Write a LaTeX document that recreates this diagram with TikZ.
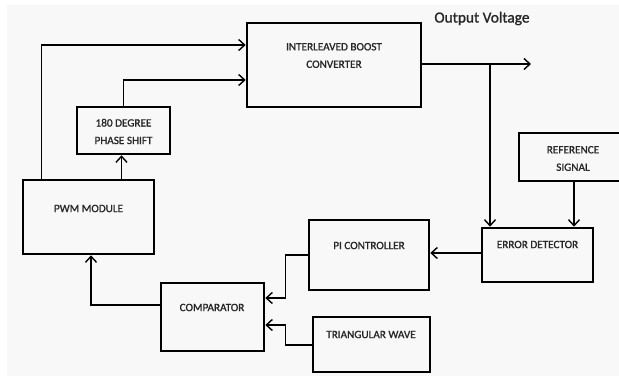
\documentclass[tikz,border=0pt]{standalone}
\usepackage{fontspec}
\setmainfont{Carlito}
\newfontfamily\boldishfont[FakeBold=1.2]{Carlito}
\usetikzlibrary{arrows.meta,calc}
\definecolor{bgc}{HTML}{F8F8F8}
\tikzset{
  blk/.style={draw=black, line width=2.6pt, inner sep=0pt},
  lbl/.style={inner sep=0pt, font=\boldishfont\fontsize{11.2}{13}\selectfont, align=center, text=black!85},
  conn/.style={line width=1.4pt},
  arr/.style={conn, -{Straight Barb[length=6pt,width=11pt,line width=1.4pt]}}
}
\begin{document}
\begin{tikzpicture}[x=1pt,y=-1pt]
\clip (0,0) rectangle (619,378);
\fill[white] (0,0) rectangle (619,378);
\fill[bgc] (7,5) rectangle (619,376);
% boxes
\node[blk, minimum width=174pt, minimum height=84pt] (conv) at (334,65) {};
\node[blk, minimum width=93pt, minimum height=47pt] (phase) at (123.5,130.5) {};
\node[blk, minimum width=131pt, minimum height=74pt] (pwm) at (88.5,217) {};
\node[blk, minimum width=103pt, minimum height=68pt] (comp) at (212.5,317) {};
\node[blk, minimum width=120pt, minimum height=70pt] (pi) at (369,255) {};
\node[blk, minimum width=111pt, minimum height=54pt] (err) at (537.5,255) {};
\node[blk, minimum width=117pt, minimum height=55pt] (tri) at (371.5,344.5) {};
\node[blk, minimum width=108pt, minimum height=48pt] (ref) at (573,157) {};
% texts
\node[lbl] (convt) at (334,55.5) {INTERLEAVED BOOST\\[4.5pt]CONVERTER};
\node[lbl] (phaset) at (123.5,131.5) {180 DEGREE\\[4.5pt]PHASE SHIFT};
\node[lbl] (pwmt) at (88.5,208.5) {PWM MODULE};
\node[lbl] (compt) at (212,307.5) {COMPARATOR};
\node[lbl] (pit) at (369,245.5) {PI CONTROLLER};
\node[lbl] (errt) at (537.5,244.5) {ERROR DETECTOR};
\node[lbl] (trit) at (371,334.5) {TRIANGULAR WAVE};
\node[lbl] (reft) at (573,158.5) {REFERENCE\\[4.5pt]SIGNAL};
\node[inner sep=0pt, font=\boldishfont\fontsize{15.4}{17}\selectfont, text=black!85] (outl) at (482,18.5) {Output Voltage};
% connectors
\coordinate (outend) at (531,64);
\coordinate (tap) at (490,64);
\draw[arr] ([xshift=20pt]pwm.north west) |- ([yshift=20pt]conv.west);
\draw[arr] (phase.north) |- ([yshift=-15pt]conv.west);
\draw[arr] ([xshift=-2pt]phase.south |- pwm.north) -- ([xshift=-2pt]phase.south);
\draw[arr] ([yshift=12pt]comp.west) -| ([xshift=2.5pt]pwm.south);
\draw[arr] (pi.west) -- ++(-22,0) |- ([yshift=19pt]comp.east);
\draw[arr] ([yshift=-0.5pt]tri.west) -- ++(-26,0) |- ([yshift=-8pt]comp.east);
\draw[arr] ([yshift=2pt]err.west) -- ([yshift=2pt]err.west -| pi.east);
\draw[arr] (conv.east |- outend) -- (outend);
\draw[arr] (tap) -- (tap |- err.north);
\draw[arr] ([xshift=1pt]ref.south) -- ([xshift=1pt]ref.south |- err.north);
\end{tikzpicture}
\end{document}
